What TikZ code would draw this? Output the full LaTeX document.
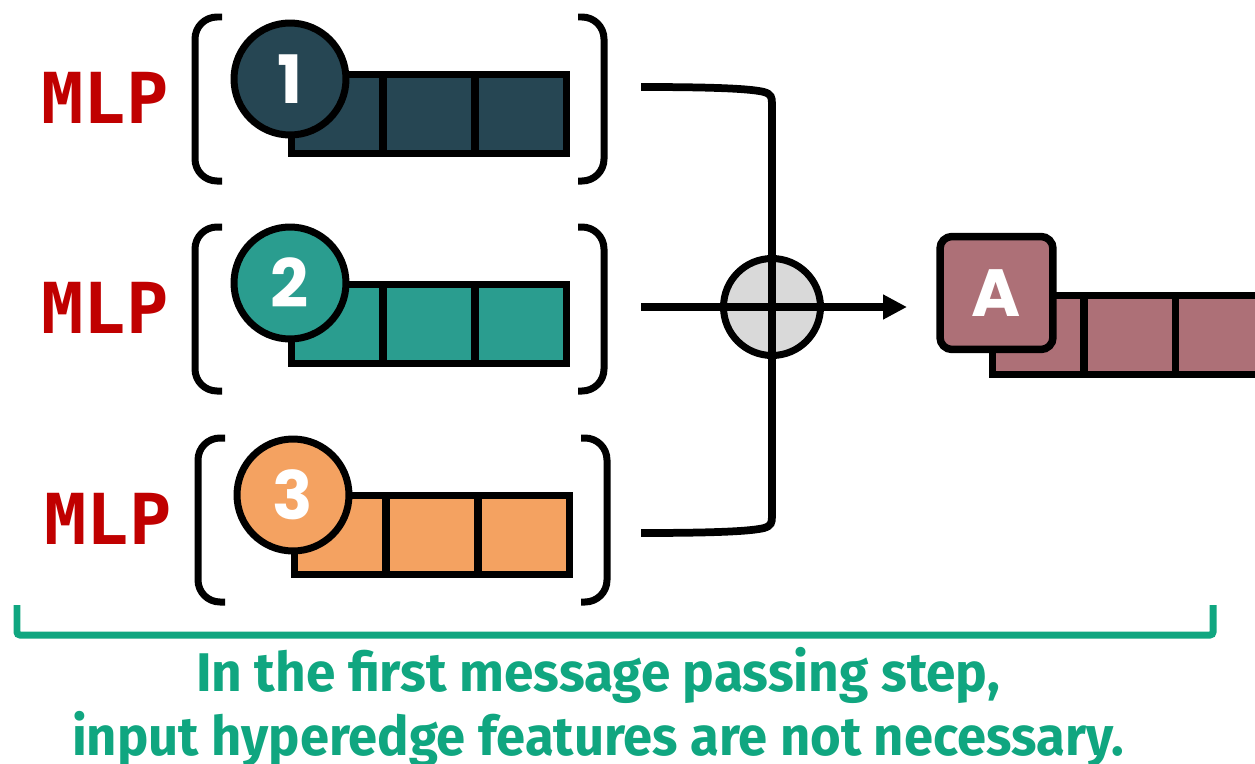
\documentclass[tikz,border=0pt]{standalone}
\usepackage{fontspec}
\usepackage{graphicx}
\usetikzlibrary{arrows.meta}

\newfontfamily\mlpfont{DejaVu Sans Mono}
\newfontfamily\numfont{Poppins}
\newfontfamily\capfont{Fira Sans}

\definecolor{featA}{HTML}{264653}
\definecolor{featB}{HTML}{2A9D8F}
\definecolor{featC}{HTML}{F4A261}
\definecolor{edgeA}{HTML}{AD7077}
\definecolor{mlpred}{HTML}{C00000}
\definecolor{sumgray}{HTML}{D9D9D9}
\definecolor{capgreen}{HTML}{10A680}

\tikzset{
  cell/.style={draw=black, line width=0.15cm, minimum width=1.833cm,
    minimum height=1.58cm, inner sep=0pt},
  badge/.style={circle, draw=black, line width=0.14cm, minimum size=2.24cm,
    inner sep=0pt, text=white, font=\numfont\bfseries\fontsize{38}{38}\selectfont},
  paren/.style={line width=0.14cm, rounded corners=0.44cm},
  mlp/.style={text=mlpred, inner sep=0pt,
    font=\mlpfont\bfseries\fontsize{40}{40}\selectfont},
  conn/.style={line width=0.155cm},
  sumnode/.style={circle, draw=black, fill=sumgray, line width=0.14cm,
    minimum size=1.94cm, inner sep=0pt},
  edgebox/.style={draw=black, fill=edgeA, line width=0.15cm, rounded corners=0.24cm,
    minimum size=2.26cm, inner sep=0pt, text=white,
    font=\numfont\bfseries\fontsize{38}{38}\selectfont},
  caption/.style={text=capgreen, inner sep=0pt,
    font=\capfont\bfseries\fontsize{31}{31}\selectfont},
}

\begin{document}
\begin{tikzpicture}[x=0.02cm, y=-0.02cm]
\clip (0,0) rectangle (1255,764);

% three node-feature rows, each wrapped by an MLP
\foreach \r/\dx/\dy/\col/\cy/\my/\num in
  {1/0/0/featA/79/97.5/1, 2/0/210/featB/283/308/2, 3/3/421/featC/495/519/3}{
  \node[mlp] (mlp\r) at (105+\dx, \my) {MLP};
  \draw[paren] (222+\dx, 17+\dy) -- (195+\dx, 17+\dy) -- (195+\dx, 181+\dy) -- (222+\dx, 181+\dy);
  \draw[paren] (578+\dx, 17+\dy) -- (604+\dx, 17+\dy) -- (604+\dx, 181+\dy) -- (578+\dx, 181+\dy);
  \node[cell, fill=\col] (r\r a) at (337.3+\dx, 113.8+\dy) {};
  \node[cell, fill=\col] (r\r b) at (429+\dx, 113.8+\dy) {};
  \node[cell, fill=\col] (r\r c) at (520.7+\dx, 113.8+\dy) {};
  \node[badge, fill=\col] (v\r) at (290+\dx, \cy) {\num};
}

% aggregation
\node[sumnode] (sum) at (772,307) {};
\coordinate (in1) at (641,87);
\coordinate (in2) at (641,307);
\coordinate (in3) at (641,533);
\coordinate (tip) at (907,307);

\draw[conn] (in1) .. controls (720,87) and (752,89) .. (764,92)
  .. controls (771,94) and (772,97) .. (772,104) -- (sum.center);
\draw[conn] (in3) .. controls (720,533) and (752,531) .. (764,528)
  .. controls (771,526) and (772,523) .. (772,516) -- (sum.center);
\draw[conn] (in2) -- (sum.center);
\draw[conn, -{Triangle[length=0.48cm, width=0.47cm]}] (sum.center) -- (tip);

% resulting hyperedge feature
\node[cell, fill=edgeA] (ea) at (1038.3,335) {};
\node[cell, fill=edgeA] (eb) at (1129.8,335) {};
\node[cell, fill=edgeA] (ec) at (1221.3,335) {};
\node[edgebox] (A) at (996.5,293) {A};

% bottom brace and note
\draw[capgreen, line width=0.14cm, rounded corners=0.06cm]
  (17,605) -- (17,635) -- (1213,635) -- (1213,605);
\node[caption, anchor=base] (cap1) at (598,691)
  {\resizebox{16.08cm}{\height}{In the first message passing step,}};
\node[caption, anchor=base] (cap2) at (598,755)
  {\resizebox{21.04cm}{\height}{input hyperedge features are not necessary.}};
\end{tikzpicture}
\end{document}
